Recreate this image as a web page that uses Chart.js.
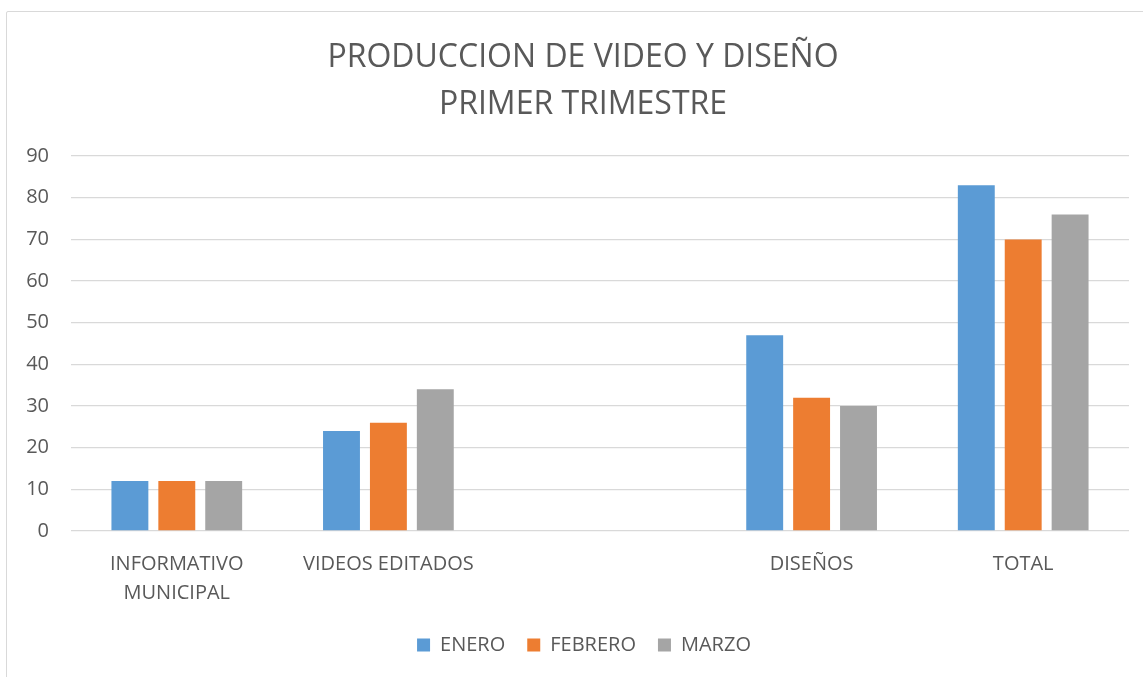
<!DOCTYPE html>
<html>
<head>
<meta charset="utf-8">
<script src="https://cdn.jsdelivr.net/npm/chart.js@4.4.1/dist/chart.umd.min.js"></script>
<style>
  html, body { margin: 0; padding: 0; background: #ffffff; overflow: hidden; }
  #frame {
    position: absolute; left: 6px; top: 11px; width: 1200px; height: 720px;
    border: 1.5px solid #d9d9d9; box-sizing: border-box; border-radius: 2px;
  }
  #wrap { position: absolute; left: 0; top: 0; width: 1143px; height: 677px; }
</style>
</head>
<body>
<div id="frame"></div>
<div id="wrap"><canvas id="chart" width="1143" height="677"></canvas></div>
<script>
// Categories (the third slot is intentionally blank)
const categories = [['INFORMATIVO', 'MUNICIPAL'], 'VIDEOS EDITADOS', '', 'DISEÑOS', 'TOTAL'];

// Monthly counts per category
const enero   = [12, 24, null, 47, 83];
const febrero = [12, 26, null, 32, 70];
const marzo   = [12, 34, null, 30, 76];

const seriesNames = ['ENERO', 'FEBRERO', 'MARZO'];
const yTicks = [0, 10, 20, 30, 40, 50, 60, 70, 80, 90];

const titleLines = ['PRODUCCION DE VIDEO Y DISEÑO', 'PRIMER TRIMESTRE'];

const textColor = '#595959';
const fontFamily = '"Open Sans", "Liberation Sans", sans-serif';

// Centre title and legend on the framed chart box, which runs past the right edge
const boxCentering = {
  id: 'boxCentering',
  afterLayout(chart) {
    const area = chart.chartArea;
    const lg = chart.legend;
    const dx = (area.left + area.right) / 2 - (lg.left + lg.right) / 2 - 16;
    lg.left += dx;
    lg.right += dx;
    const tb = chart.titleBlock;
    const tx = 583 - (tb.left + tb.right) / 2;
    tb.left += tx;
    tb.right += tx;
  }
};

const ctx = document.getElementById('chart').getContext('2d');
new Chart(ctx, {
  type: 'bar',
  data: {
    labels: categories,
    datasets: [
      { label: seriesNames[0], data: enero,   backgroundColor: '#5b9bd5' },
      { label: seriesNames[1], data: febrero, backgroundColor: '#ed7d31' },
      { label: seriesNames[2], data: marzo,   backgroundColor: '#a5a5a5' }
    ]
  },
  plugins: [boxCentering],
  options: {
    responsive: false,
    animation: false,
    devicePixelRatio: 1,
    layout: { padding: { left: 0, right: 14, top: 0, bottom: 12 } },
    datasets: {
      bar: { categoryPercentage: 0.665, barPercentage: 0.787 }
    },
    scales: {
      x: {
        grid: { display: false },
        border: { display: false },
        afterFit: (scale) => { scale.height -= 6; },
        ticks: {
          color: textColor,
          font: { family: fontFamily, size: 20, lineHeight: 1.45 },
          padding: 11,
          maxRotation: 0,
          autoSkip: false
        }
      },
      y: {
        min: 0,
        max: 90,
        afterBuildTicks: (scale) => { scale.ticks = yTicks.map(v => ({ value: v })); },
        afterFit: (scale) => { scale.width = 71; },
        grid: { color: '#d9d9d9', lineWidth: 1.3, drawTicks: false },
        border: { display: false },
        ticks: {
          color: textColor,
          font: { family: fontFamily, size: 20 },
          padding: 22
        }
      }
    },
    plugins: {
      title: {
        display: true,
        text: titleLines,
        color: textColor,
        font: { family: fontFamily, size: 32, weight: 'normal', lineHeight: 1.47 },
        padding: { top: 34, bottom: 28 }
      },
      legend: {
        position: 'bottom',
        labels: {
          color: textColor,
          font: { family: fontFamily, size: 20 },
          boxWidth: 13,
          boxHeight: 13,
          padding: 22
        }
      },
      tooltip: { enabled: false }
    }
  }
});
</script>
</body>
</html>
